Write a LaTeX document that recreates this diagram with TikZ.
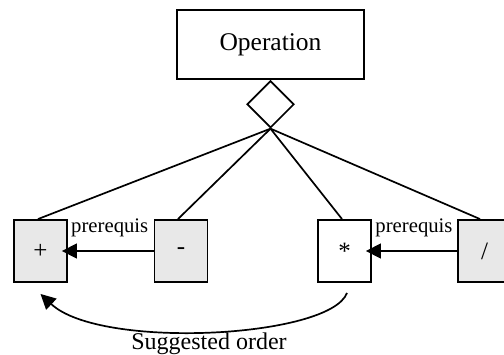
\documentclass[tikz,border=0pt]{standalone}
\usepackage{fontspec}
\setmainfont{Liberation Serif}
\usetikzlibrary{arrows.meta,shapes.geometric}
\definecolor{boxgray}{HTML}{E8E8E8}
\begin{document}
\begin{tikzpicture}[x=1pt,y=-1pt,
  box/.style={draw,line width=1.9pt,minimum width=53pt,minimum height=62pt,inner sep=0pt,font=\fontsize{25}{30}\selectfont},
  graybox/.style={box,fill=boxgray},
  link/.style={line width=1.7pt},
  arr/.style={line width=1.7pt,-{Triangle[length=15pt,width=15pt]}},
  lbl/.style={font=\fontsize{20.7}{24}\selectfont,inner sep=0pt},
  biglbl/.style={font=\fontsize{24}{28}\selectfont,inner sep=0pt}]
\useasboundingbox (0,0) rectangle (504,354);
\node[draw,line width=1.9pt,minimum width=187pt,minimum height=69pt,inner sep=0pt,font=\fontsize{25.5}{30}\selectfont] (op) at (270.5,44.5) {Operation};
\node[diamond,draw,line width=1.7pt,minimum width=47pt,minimum height=47pt,inner sep=0pt,anchor=north] (dia) at (op.south) {};
\node[graybox] (plus) at (40.5,251) {+};
\node[graybox] (minus) at (181,251) {-};
\node[box,fill=white] (mul) at (344.5,251) {*};
\node[graybox] (div) at (484.5,251) {/};
\draw[link] (dia.south) -- ([xshift=-2.5pt]plus.north);
\draw[link] (dia.south) -- ([xshift=-3pt]minus.north);
\draw[link] (dia.south) -- ([xshift=-2.5pt]mul.north);
\draw[link] (dia.south) -- ([xshift=-4.5pt]div.north);
\draw[arr] (minus.west) -- node[lbl,midway,xshift=2pt,yshift=23pt] (l1) {prerequis} ([xshift=-6pt]plus.east);
\draw[arr] (div.west) -- node[lbl,midway,xshift=2.5pt,yshift=23pt] (l2) {prerequis} ([xshift=-6pt]mul.east);
\draw[arr] ([xshift=2.5pt,yshift=-10pt]mul.south) .. controls (330,338) and (100,350) .. ([yshift=-11pt]plus.south);
\node[biglbl] (sug) at (209,344) {Suggested order};
\end{tikzpicture}
\end{document}
